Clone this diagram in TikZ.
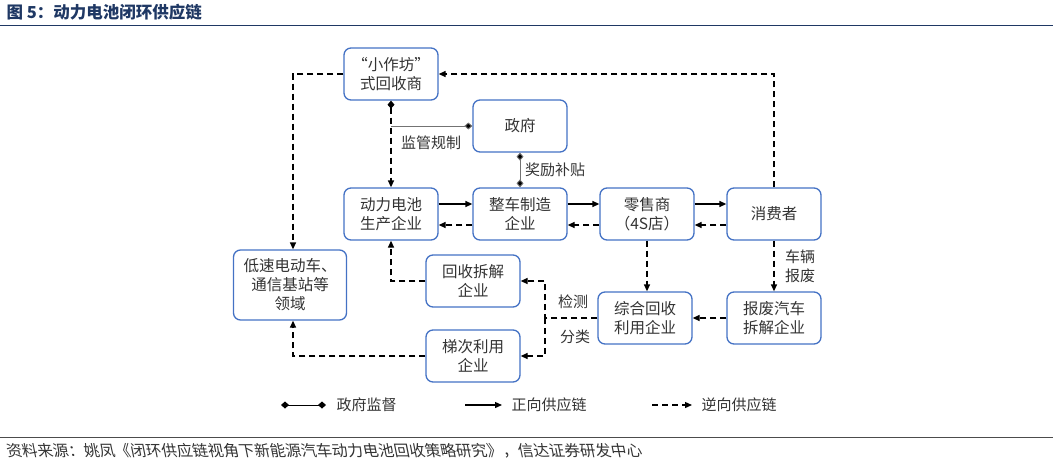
\documentclass[tikz,border=0pt]{standalone}
\usepackage{fontspec}
\setmainfont{Noto Sans CJK SC}
\usetikzlibrary{arrows.meta}
\definecolor{bb}{HTML}{4472C4}
\definecolor{tt}{HTML}{1F3864}
\begin{document}
\begin{tikzpicture}[x=1pt,y=-1pt,
 box/.style={draw=bb,line width=1.3pt,rounded corners=7pt,minimum width=94pt,minimum height=52pt,align=center,font=\fontsize{15.5}{19}\selectfont,text=black!80},
 fw/.style={line width=1.3pt,-{Triangle[length=7pt,width=6pt]}},
 bw/.style={line width=1.3pt,dash pattern=on 6pt off 4pt,-{Triangle[length=7pt,width=6pt]}},
 gv/.style={line width=0.9pt,draw=black!55,{Diamond[length=8pt,width=7pt,fill=black]}-{Diamond[length=8pt,width=7pt,fill=black]}},
 lb/.style={font=\fontsize{15}{19}\selectfont,text=black!80,align=center}]
\useasboundingbox (0,0) rectangle (1053,464);
\node[anchor=west,font=\bfseries\fontsize{16.5}{18}\selectfont,text=tt] (title) at (3,12) {图 5：动力电池闭环供应链};
\draw[tt,line width=1pt] (0,25) -- (1053,25);
\draw[black!70,line width=0.8pt] (0,437) -- (1053,437);
\node[anchor=west,font=\fontsize{15.5}{17}\selectfont,text=black!80,xslant=-0.2] (src) at (3,451) {资料来源：姚凤《闭环供应链视角下新能源汽车动力电池回收策略研究》，信达证券研发中心};

\node[box] (xz) at (391,74) {“小作坊”\\式回收商};
\node[box] (zf) at (520,126) {政府};
\node[box] (dl) at (391,214) {动力电池\\生产企业};
\node[box] (zc) at (520,214) {整车制造\\企业};
\node[box] (ls) at (647,214) {零售商\\（4S店）};
\node[box] (xf) at (774,214) {消费者};
\node[box,minimum width=113pt,minimum height=70pt] (ds) at (290,285) {低速电动车、\\通信基站等\\领域};
\node[box] (hs) at (473,281) {回收拆解\\企业};
\node[box] (zh) at (645,318) {综合回收\\利用企业};
\node[box] (bf) at (774,318) {报废汽车\\拆解企业};
\node[box] (tc) at (473,356) {梯次利用\\企业};

\coordinate (c1) at (293,74);
\draw[bw] (xz.west) -- (c1) -- (ds.north -| c1);
\coordinate (c2) at (774,74);
\draw[bw] (xf.north) -- (c2) -- (xz.east);
\draw[bw,{Diamond[length=8pt,width=7pt,fill=black]}-{Triangle[length=7pt,width=6pt]}] (xz.south) -- (dl.north);
\coordinate (c3) at (391,126);
\draw[gv,{}-{Diamond[length=8pt,width=7pt,fill=black]}] (c3) -- (zf.west);
\node[lb] (l1) at (431,143) {监管规制};
\draw[gv] (zf.south) -- (zc.north);
\node[lb] (l2) at (555,170) {奖励补贴};
\foreach \a/\b in {dl/zc,zc/ls,ls/xf}{
 \draw[fw] ([yshift=10pt]\a.east) -- ([yshift=10pt]\b.west);
 \draw[bw] ([yshift=-11pt]\b.west) -- ([yshift=-11pt]\a.east);}
\draw[bw] (ls.south) -- (ls.south |- zh.north);
\draw[bw] (xf.south) -- (bf.north);
\node[lb] (l3) at (800,266) {车辆\\报废};
\draw[bw] (bf.west) -- (zh.east);
\coordinate (c4) at (545,318);
\draw[bw] (zh.west) -- (c4) -- (c4 |- hs.east) -- (hs.east);
\draw[bw] (c4) -- (c4 |- tc.east) -- (tc.east);
\node[lb] (l4) at (573,302) {检测};
\node[lb] (l5) at (575,337) {分类};
\coordinate (c5) at (391,281);
\draw[bw] (hs.west) -- (c5) -- (dl.south);
\coordinate (c6) at (293,356);
\draw[bw] (tc.west) -- (c6) -- (c6 |- ds.south);

\coordinate (g1) at (281,405); \coordinate (g2) at (326,405);
\draw[gv,draw=black] (g1) -- (g2);
\node[lb,anchor=west] (t1) at (333,405) {政府监督};
\coordinate (g3) at (465,405); \coordinate (g4) at (502,405);
\draw[fw] (g3) -- (g4);
\node[lb,anchor=west] (t2) at (508,405) {正向供应链};
\coordinate (g5) at (652,405); \coordinate (g6) at (692,405);
\draw[bw] (g5) -- (g6);
\node[lb,anchor=west] (t3) at (698,405) {逆向供应链};
\end{tikzpicture}
\end{document}
